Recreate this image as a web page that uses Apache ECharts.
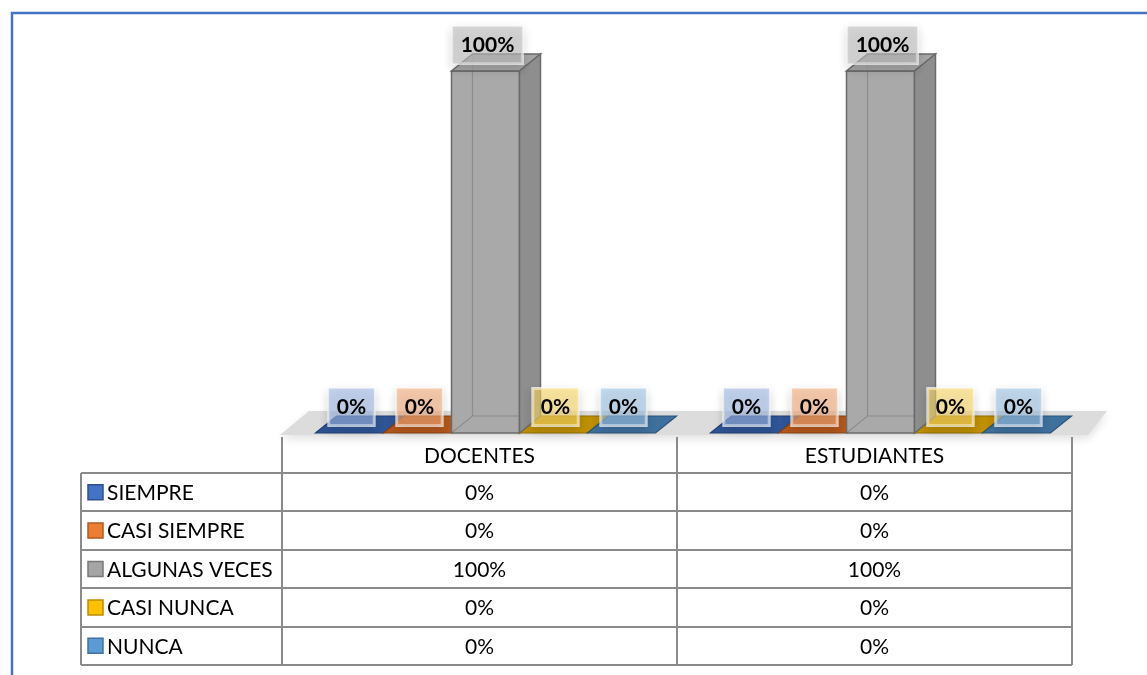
<!DOCTYPE html>
<html>
<head>
<meta charset="utf-8">
<script src="https://cdn.jsdelivr.net/npm/echarts@6/dist/echarts.min.js"></script>
<style>
html,body{margin:0;padding:0;background:#fff;}
#chart{width:1147px;height:675px;}
</style>
</head>
<body>
<div id="chart"></div>
<script>
// ---- data ----
const categories = ['DOCENTES', 'ESTUDIANTES'];
const seriesNames = ['SIEMPRE', 'CASI SIEMPRE', 'ALGUNAS VECES', 'CASI NUNCA', 'NUNCA'];
const siempre = [0, 0];
const casiSiempre = [0, 0];
const algunasVeces = [100, 100];
const casiNunca = [0, 0];
const nunca = [0, 0];
const seriesValues = [siempre, casiSiempre, algunasVeces, casiNunca, nunca];

// ---- styles ----
const baseColors = ['#4472C4', '#ED7D31', '#A5A5A5', '#FFC000', '#5B9BD5'];
const keyBorders = ['#2F528F', '#AE5A21', '#787878', '#BC8C00', '#41719C'];
const flatColors = ['#2F5597', '#B5581C', '#8C8C8C', '#BF9000', '#3F719E'];
const flatBorders = ['#233F70', '#8A4213', '#6A6A6A', '#8F6C00', '#2C5478'];
const labelFills = ['rgba(158,183,228,0.6)', 'rgba(243,172,123,0.6)', 'rgba(192,192,192,0.6)', 'rgba(252,217,103,0.6)', 'rgba(158,197,230,0.6)'];

const FONT = 'Lato, "Open Sans", sans-serif';
const W = 1147, H = 675;
const GRID_L = 282, GRID_R = 1072, GRID_T = 71, BASE_Y = 433;
const BAR_FRAC = 68 / 395, SHIFT = 6 / 395;
const DX = 21, DY = 17;

function renderBar(sIdx) {
  return function (params, api) {
    const cat = api.value(0), val = api.value(1);
    const base = api.coord([cat, 0]);
    const top = api.coord([cat, val]);
    const band = api.size([1, 0])[0];
    const bw = band * BAR_FRAC;
    const cx = base[0] + SHIFT * band + (sIdx - 2) * bw;
    const x0 = cx - bw / 2, x1 = cx + bw / 2, y0 = top[1], y1 = base[1];
    const children = [];
    if (val > 0) {
      children.push({
        type: 'rect', z2: 1,
        shape: { x: x0, y: y0, width: bw, height: y1 - y0 },
        style: { fill: '#A9A9A9', stroke: '#6B6B6B', lineWidth: 1.5 }
      });
      children.push({
        type: 'polyline', z2: 2,
        shape: { points: [[x0, y1], [x0 + DX, y1 - DY], [x1 + DX, y1 - DY]] },
        style: { fill: null, stroke: 'rgba(90,90,90,0.35)', lineWidth: 1.2 }
      });
      children.push({
        type: 'line', z2: 2,
        shape: { x1: x0 + DX, y1: y0 - DY, x2: x0 + DX, y2: y1 - DY },
        style: { stroke: 'rgba(90,90,90,0.35)', lineWidth: 1.2 }
      });
      children.push({
        type: 'polygon', z2: 3,
        shape: { points: [[x0, y0], [x1, y0], [x1 + DX, y0 - DY], [x0 + DX, y0 - DY]] },
        style: { fill: 'rgba(150,150,150,0.85)', stroke: '#6B6B6B', lineWidth: 1.5 }
      });
      children.push({
        type: 'polygon', z2: 3,
        shape: { points: [[x1, y0], [x1 + DX, y0 - DY], [x1 + DX, y1 - DY], [x1, y1]] },
        style: { fill: '#8E8E8E', stroke: '#6B6B6B', lineWidth: 1.5 }
      });
    } else {
      children.push({
        type: 'polygon', z2: 1,
        shape: { points: [[x0, y1], [x1, y1], [x1 + DX, y1 - DY], [x0 + DX, y1 - DY]] },
        style: { fill: flatColors[sIdx], stroke: flatBorders[sIdx], lineWidth: 1.2 }
      });
    }
    children.push({
      type: 'text', z2: 20,
      style: {
        x: cx + 2, y: y0 - 26,
        text: val + '%',
        align: 'center', verticalAlign: 'middle',
        font: 'bold 21px ' + FONT,
        fill: '#000',
        backgroundColor: labelFills[sIdx],
        borderColor: 'rgba(255,255,255,0.75)', borderWidth: 1.5,
        padding: [8, 8, 8, 8],
        shadowColor: 'rgba(0,0,0,0.18)', shadowBlur: 10, shadowOffsetY: 4
      }
    });
    return { type: 'group', children: children };
  };
}

const series = seriesNames.map(function (name, i) {
  return {
    type: 'custom', name: name,
    renderItem: renderBar(i),
    encode: { x: 0, y: 1 },
    data: categories.map(function (c, j) { return [j, seriesValues[i][j]]; }),
    silent: true
  };
});

// ---- table & decorations (graphic) ----
const graphics = [];
graphics.push({ type: 'polyline', z: 0, shape: { points: [[12, H + 5], [12, 13], [W + 5, 13]] }, style: { fill: null, stroke: '#4472C4', lineWidth: 2.5 } });
graphics.push({
  type: 'polygon', z: 0,
  shape: { points: [[GRID_L - 2, BASE_Y + 2], [GRID_R + 16, BASE_Y + 2], [GRID_R + 35, BASE_Y - 22], [GRID_L + 27, BASE_Y - 22]] },
  style: { fill: '#DCDCDC', shadowColor: 'rgba(0,0,0,0.12)', shadowBlur: 8, shadowOffsetY: 4 }
});
const LINE = '#8A8A8A';
const tableLeft = 81, headerTop = 437, rowTop = 473, rowBottom = 665;
const rowH = (rowBottom - rowTop) / seriesNames.length;
const colW = (GRID_R - GRID_L) / categories.length;
categories.forEach(function (c, j) {
  graphics.push({ type: 'text', z: 5, style: { x: GRID_L + colW * (j + 0.5), y: (headerTop + rowTop) / 2 + 1, text: c, align: 'center', verticalAlign: 'middle', font: '21px ' + FONT, fill: '#000' } });
});
seriesNames.forEach(function (name, i) {
  const cy = rowTop + rowH * (i + 0.5);
  graphics.push({ type: 'rect', z: 5, shape: { x: 88, y: cy - 7.5, width: 15, height: 15 }, style: { fill: baseColors[i], stroke: keyBorders[i], lineWidth: 1.5 } });
  graphics.push({ type: 'text', z: 5, style: { x: 107, y: cy + 1, text: name, align: 'left', verticalAlign: 'middle', font: '21px ' + FONT, fill: '#000' } });
  categories.forEach(function (c, j) {
    graphics.push({ type: 'text', z: 5, style: { x: GRID_L + colW * (j + 0.5), y: cy + 1, text: seriesValues[i][j] + '%', align: 'center', verticalAlign: 'middle', font: '21px ' + FONT, fill: '#000' } });
  });
});
for (let r = 0; r <= seriesNames.length; r++) {
  const y = Math.round(rowTop + rowH * r);
  graphics.push({ type: 'line', z: 4, shape: { x1: tableLeft, y1: y, x2: GRID_R, y2: y }, style: { stroke: LINE, lineWidth: 2 } });
}
graphics.push({ type: 'line', z: 4, shape: { x1: tableLeft, y1: rowTop, x2: tableLeft, y2: rowBottom }, style: { stroke: LINE, lineWidth: 2 } });
for (let j = 0; j <= categories.length; j++) {
  const x = GRID_L + colW * j;
  graphics.push({ type: 'line', z: 4, shape: { x1: x, y1: headerTop, x2: x, y2: rowBottom }, style: { stroke: LINE, lineWidth: 2 } });
}

const chart = echarts.init(document.getElementById('chart'), null, { renderer: 'canvas' });
chart.setOption({
  animation: false,
  backgroundColor: '#fff',
  grid: { left: GRID_L, right: W - GRID_R, top: GRID_T, bottom: H - BASE_Y },
  xAxis: { type: 'category', data: categories, show: false },
  yAxis: { type: 'value', min: 0, max: 100, show: false },
  graphic: graphics,
  series: series
});
</script>
</body>
</html>
